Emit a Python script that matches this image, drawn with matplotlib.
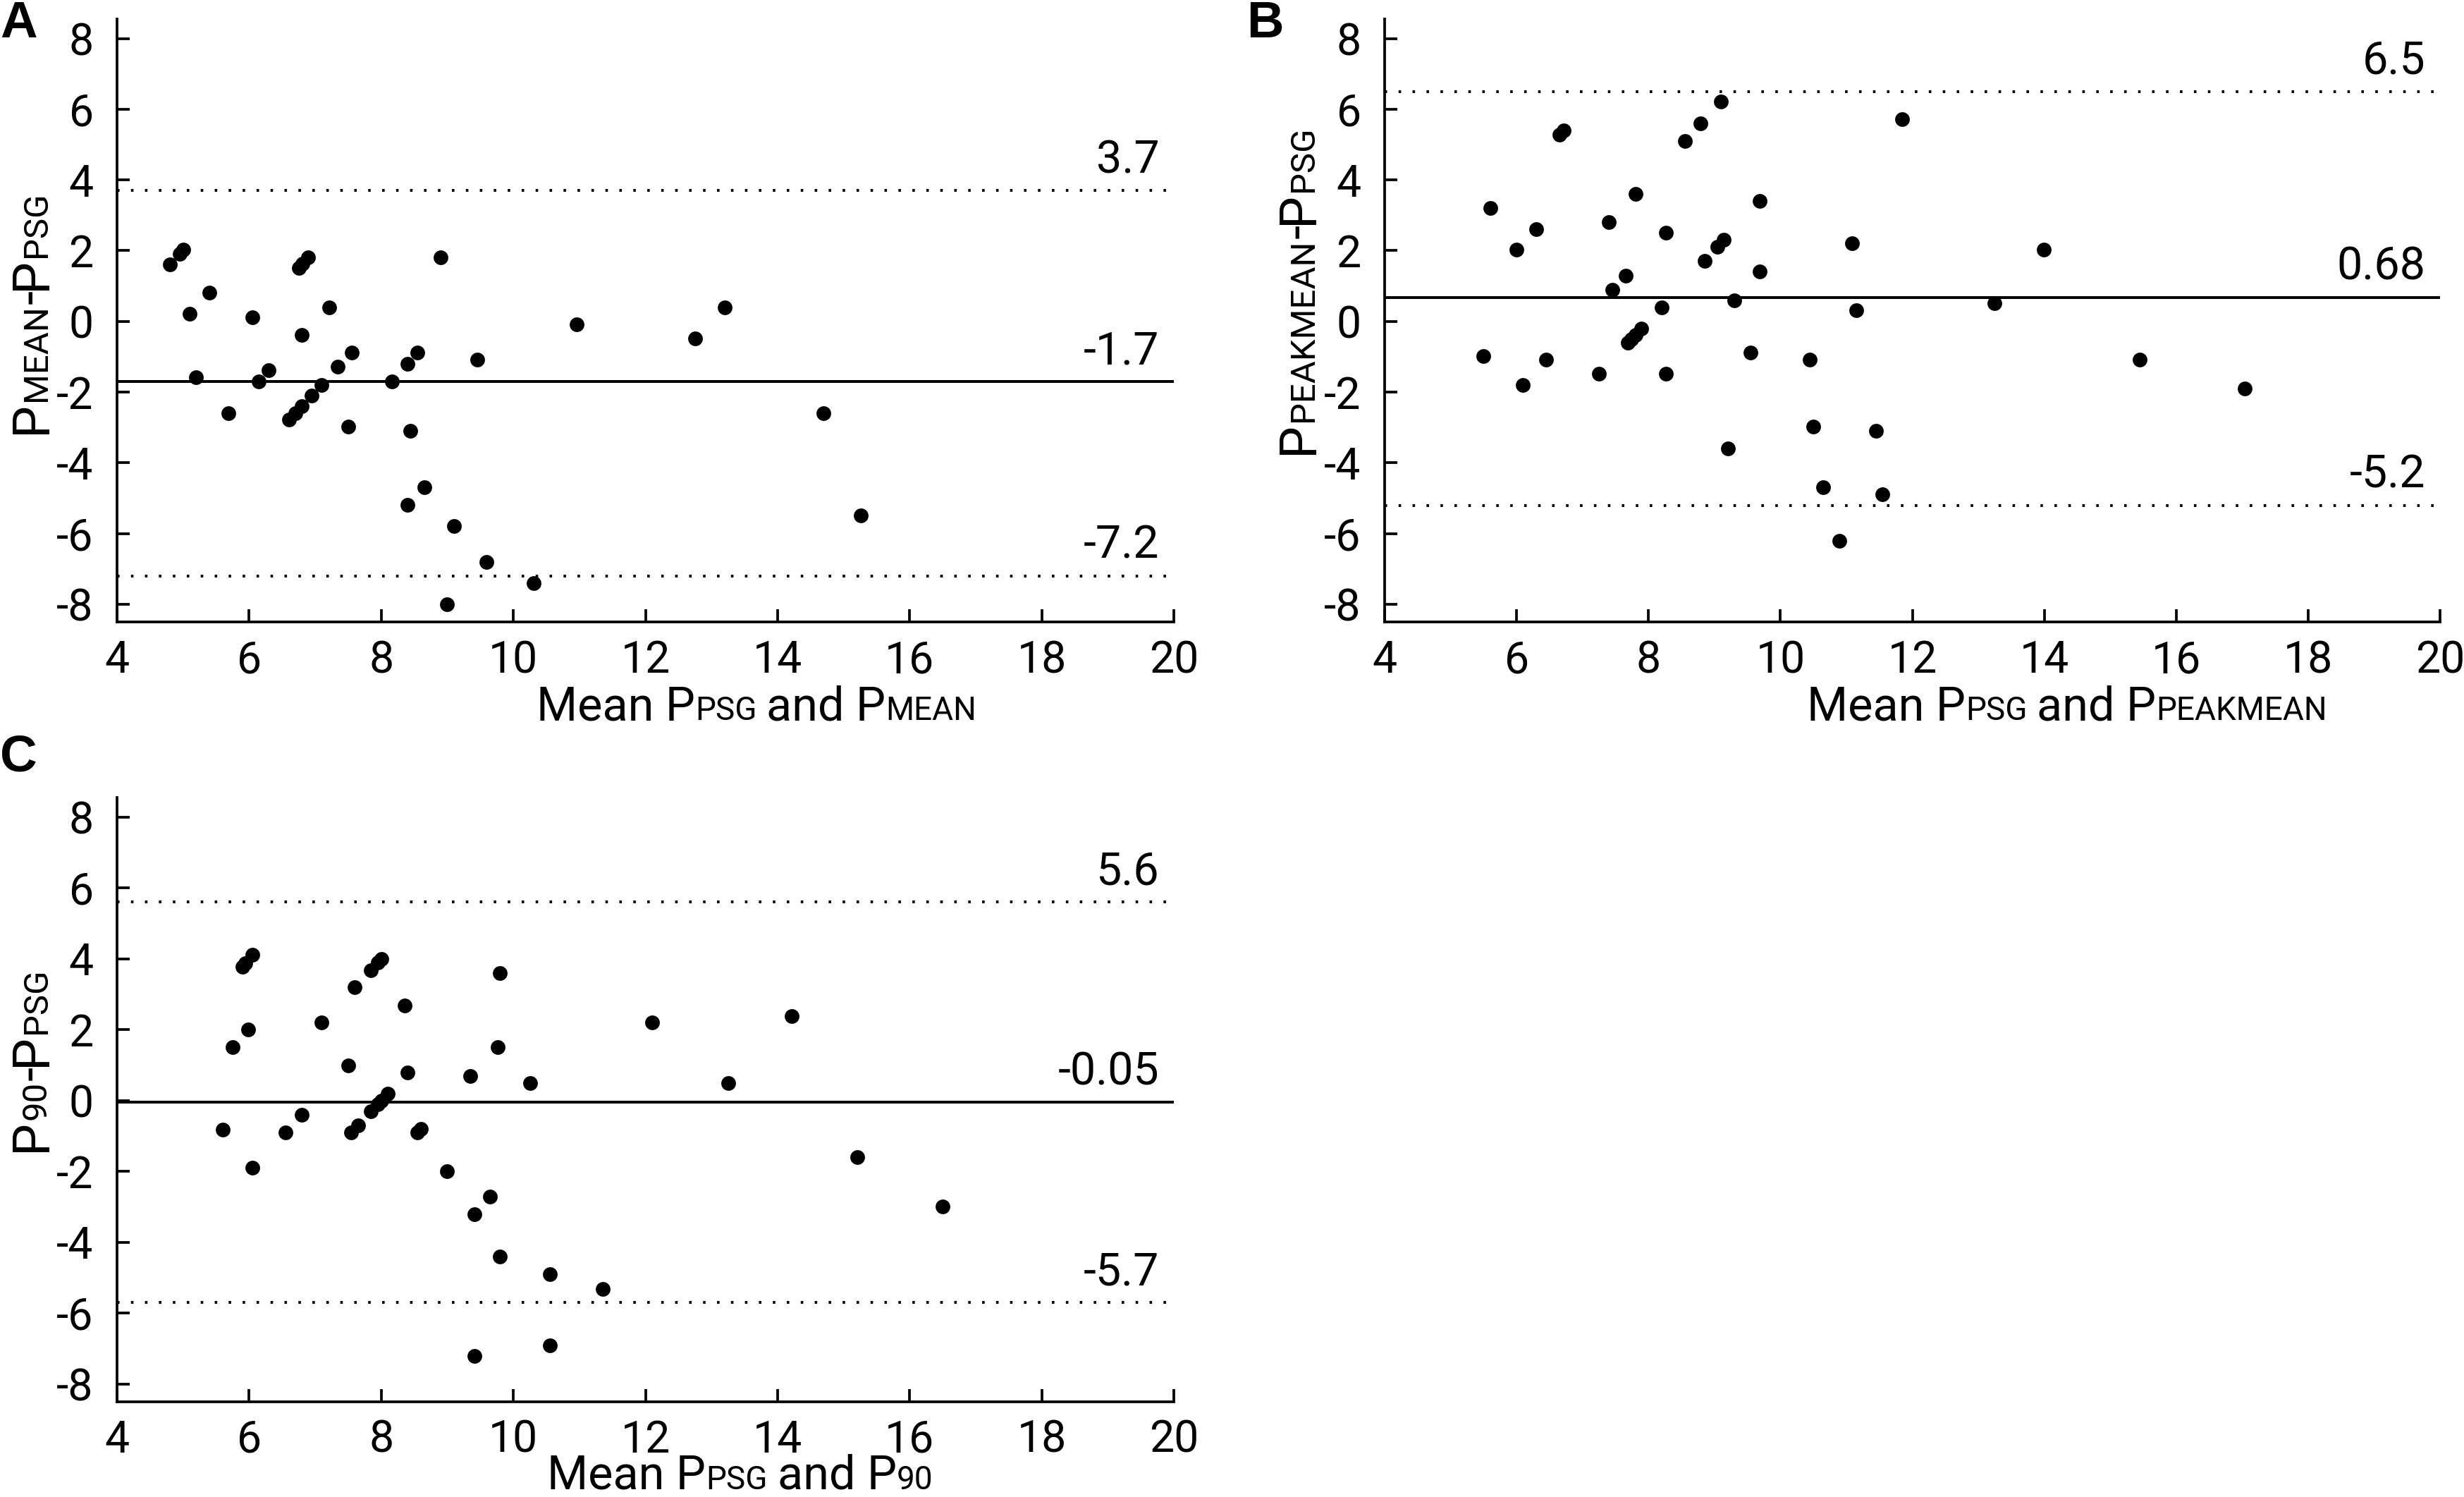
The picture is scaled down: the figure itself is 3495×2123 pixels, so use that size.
import matplotlib
matplotlib.use('Agg')
import matplotlib.pyplot as plt

plt.rcParams['font.family'] = ['Roboto', 'DejaVu Sans']
plt.rcParams['axes.unicode_minus'] = False

W, H, DPI = 3495, 2123, 300

# Panel A: PMEAN vs PPSG
a_mean = [4.80, 4.95, 5.00, 5.40, 5.10, 5.20, 5.69, 6.05, 6.15, 6.30,
          6.60, 6.70, 6.80, 6.95, 7.10, 6.75, 6.81, 6.89, 6.80, 7.21,
          7.34, 7.55, 7.50, 8.16, 8.40, 8.55, 8.44, 8.90, 8.65, 8.40,
          9.10, 9.59, 9.00, 10.31, 9.45, 10.96, 12.75, 13.20, 14.69, 15.26]
a_diff = [1.61, 1.91, 2.02, 0.81, 0.22, -1.59, -2.59, 0.12, -1.69, -1.38,
          -2.78, -2.59, -2.39, -2.10, -1.79, 1.52, 1.64, 1.81, -0.39, 0.40,
          -1.29, -0.89, -2.98, -1.69, -1.20, -0.89, -3.09, 1.81, -4.69, -5.19,
          -5.79, -6.80, -8.00, -7.41, -1.09, -0.09, -0.48, 0.40, -2.59, -5.48]
a_lines = [3.7, -1.7, -7.2]

# Panel B: PPEAKMEAN vs PPSG
b_mean = [5.50, 5.60, 6.00, 6.10, 6.30, 6.45, 6.65, 6.71, 7.25, 7.40,
          7.45, 7.65, 7.69, 7.74, 7.80, 7.89, 7.80, 8.20, 8.26, 8.26,
          8.55, 8.79, 8.85, 9.05, 9.14, 9.10, 9.30, 9.20, 9.55, 9.69,
          9.69, 10.44, 10.50, 10.65, 10.89, 11.09, 11.15, 11.45, 11.55, 11.84,
          13.25, 13.99, 15.45, 17.04]
b_diff = [-0.99, 3.20, 2.02, -1.79, 2.61, -1.09, 5.28, 5.40, -1.49, 2.81,
          0.90, 1.30, -0.60, -0.50, -0.39, -0.20, 3.60, 0.40, 2.51, -1.49,
          5.11, 5.60, 1.71, 2.11, 2.31, 6.21, 0.60, -3.59, -0.89, 3.41,
          1.41, -1.09, -2.98, -4.69, -6.20, 2.20, 0.31, -3.09, -4.89, 5.71,
          0.51, 2.02, -1.09, -1.90]
b_lines = [6.5, 0.68, -5.2]

# Panel C: P90 vs PPSG
c_mean = [5.60, 5.75, 5.90, 5.94, 6.05, 5.99, 6.05, 6.55, 6.80, 7.10,
          7.50, 7.54, 7.65, 7.60, 7.84, 7.95, 8.00, 8.10, 7.84, 7.95,
          8.00, 8.35, 8.40, 8.55, 8.60, 9.00, 9.35, 9.41, 9.65, 9.80,
          9.76, 9.80, 9.41, 10.25, 10.55, 10.55, 11.35, 12.10, 13.25, 14.21,
          15.21, 16.50]
c_diff = [-0.82, 1.50, 3.78, 3.88, 4.11, 2.00, -1.90, -0.91, -0.41, 2.20,
          0.99, -0.91, -0.71, 3.20, -0.31, -0.11, 0.00, 0.19, 3.67, 3.90,
          4.00, 2.69, 0.79, -0.91, -0.80, -2.00, 0.69, -3.21, -2.71, 3.59,
          1.50, -4.41, -7.21, 0.50, -4.90, -6.90, -5.31, 2.20, 0.50, 2.39,
          -1.59, -2.99]
c_lines = [5.6, -0.05, -5.7]

x_ticks = [4, 6, 8, 10, 12, 14, 16, 18, 20]
y_ticks = [-8, -6, -4, -2, 0, 2, 4, 6, 8]


def add_parts(fig, x, y, parts, rotation=0):
    """Write a label made of pieces of different sizes on one baseline.
    x, y: centre along the text, baseline across it (pixels from top-left)."""
    r = fig.canvas.get_renderer()
    texts, widths = [], []
    for s, size, gap in parts:
        t = fig.text(0, 0, s, fontsize=size, ha='left', va='baseline',
                     rotation_mode='anchor')
        widths.append(gap + t.get_window_extent(r).width)
        texts.append((t, gap))
    pos = -sum(widths) / 2
    for (t, gap), w in zip(texts, widths):
        pos += gap
        if rotation == 0:
            t.set_position(((x + pos) / W, 1 - y / H))
        else:
            t.set_rotation(90)
            t.set_position((x / W, 1 - (y - pos) / H))
        pos += w - gap


def bland_altman(ax, xs, ys, lines):
    upper, bias, lower = lines
    ax.axhline(bias, color='black', lw=0.95)
    for v in (upper, lower):
        ax.axhline(v, color='black', lw=0.95, linestyle=(0, (0.9, 4.1)))
    for v in lines:
        ax.annotate(str(v), xy=(1, v), xycoords=('axes fraction', 'data'),
                    xytext=(-5, 6), textcoords='offset points',
                    ha='right', va='baseline', fontsize=15.5)
    ax.plot(xs, ys, 'o', color='black', ms=5, mew=0)
    ax.set_xlim(4, 20)
    ax.set_ylim(-8.5, 8.55)
    ax.set_xticks(x_ticks)
    ax.set_yticks(y_ticks)
    ax.spines[['top', 'right']].set_visible(False)
    for s in ('left', 'bottom'):
        ax.spines[s].set_linewidth(0.9)
    ax.tick_params(direction='in', length=4.3, width=0.9, labelsize=15)
    ax.tick_params(axis='y', pad=8)
    ax.tick_params(axis='x', pad=6)


fig = plt.figure(figsize=(W / DPI, H / DPI), dpi=DPI)
ax_a = fig.add_axes([166 / W, 1 - 882 / H, 1499 / W, 855 / H])
ax_b = fig.add_axes([1964 / W, 1 - 882 / H, 1497 / W, 855 / H])
ax_c = fig.add_axes([166 / W, 1 - 1988 / H, 1499 / W, 857 / H])

bland_altman(ax_a, a_mean, a_diff, a_lines)
bland_altman(ax_b, b_mean, b_diff, b_lines)
bland_altman(ax_c, c_mean, c_diff, c_lines)

big, small = 17.5, 11.8
xb, xs = 16, 11
sp = 14

add_parts(fig, 65, 443, [('P', big, 0), ('MEAN', small, 0), ('-', big, 0),
                         ('P', big, 0), ('PSG', small, 0)], rotation=90)
add_parts(fig, 1862, 411, [('P', big, 0), ('PEAKMEAN', small, 0), ('-', big, 0),
                           ('P', big, 0), ('PSG', small, 0)], rotation=90)
add_parts(fig, 65, 1503, [('P', big, 0), ('90', small, 0), ('-', big, 0),
                          ('P', big, 0), ('PSG', small, 0)], rotation=90)

add_parts(fig, 1073, 1021, [('Mean P', xb, 0), ('PSG', xs, 0), ('and P', xb, sp),
                            ('MEAN', xs, 0)])
add_parts(fig, 2932, 1021, [('Mean P', xb, 0), ('PSG', xs, 0), ('and P', xb, sp),
                            ('PEAKMEAN', xs, 0)])
add_parts(fig, 1050, 2112, [('Mean P', xb, 0), ('PSG', xs, 0), ('and P', xb, sp),
                            ('90', xs, 0)])

for letter, x, y in (('A', 0, 53), ('B', 1768, 53), ('C', 0, 1094)):
    fig.text(x / W, 1 - y / H, letter, fontsize=17.5, fontweight='bold',
             family=['Liberation Sans', 'DejaVu Sans'], ha='left', va='baseline')

fig.savefig('out.png', dpi=DPI)
